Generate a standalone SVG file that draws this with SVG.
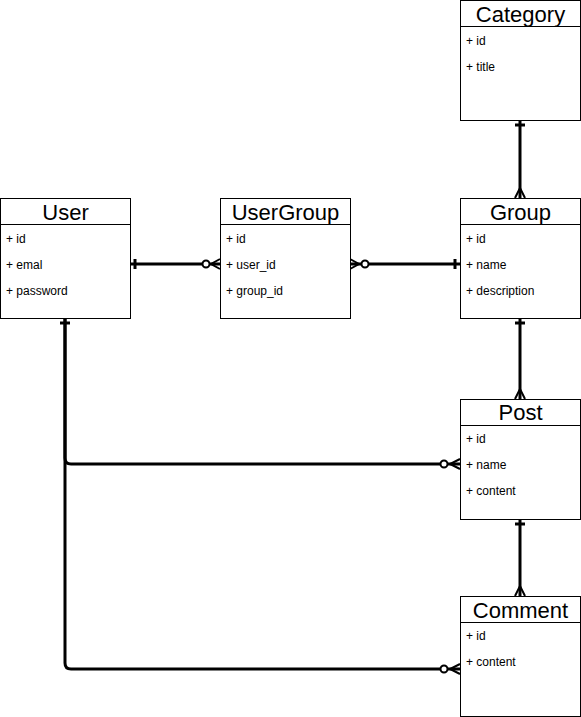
<svg xmlns="http://www.w3.org/2000/svg" width="581" height="717" viewBox="0 0 581 717">
<style>
.box{fill:#fff;stroke:#000;stroke-width:1}
.hdr{font-family:"Liberation Sans",Arial,sans-serif;font-size:22px;text-anchor:middle;fill:#000}
.attr{font-family:"Liberation Sans",Arial,sans-serif;font-size:12px;fill:#000}
.conn{fill:none;stroke:#000;stroke-width:3}
.mk{fill:none;stroke:#000;stroke-width:2}
.circ{fill:#fff;stroke:#000;stroke-width:2}
</style>
<rect width="581" height="717" fill="#fff"/>
<g id="connectors">
  <!-- User - UserGroup -->
  <path class="conn" d="M130,264 L220,264"/>
  <path class="conn" d="M135,259 L135,269"/>
  <path class="mk" d="M220,259 L211,264 L220,269"/>
  <circle class="circ" cx="206" cy="264" r="3.5"/>
  <!-- UserGroup - Group -->
  <path class="conn" d="M350,264 L460,264"/>
  <path class="mk" d="M350,259 L359,264 L350,269"/>
  <circle class="circ" cx="365" cy="264" r="3.5"/>
  <path class="conn" d="M455,259 L455,269"/>
  <!-- Category - Group -->
  <path class="conn" d="M520,120 L520,198"/>
  <path class="conn" d="M515,125 L525,125"/>
  <path class="mk" d="M515,198 L520,188 L525,198"/>
  <!-- Group - Post -->
  <path class="conn" d="M520,318 L520,399"/>
  <path class="conn" d="M515,323 L525,323"/>
  <path class="mk" d="M515,399 L520,389 L525,399"/>
  <!-- Post - Comment -->
  <path class="conn" d="M520,519 L520,596"/>
  <path class="conn" d="M515,524 L525,524"/>
  <path class="mk" d="M515,596 L520,586 L525,596"/>
  <!-- User - Post -->
  <path class="conn" d="M65,318 L65,458 Q65,464 71,464 L460,464"/>
  <path class="conn" d="M60,323 L70,323"/>
  <path class="mk" d="M460,459 L450,464 L460,469"/>
  <circle class="circ" cx="444" cy="464" r="3.5"/>
  <!-- User - Comment -->
  <path class="conn" d="M65,318 L65,663 Q65,669 71,669 L460,669"/>
  <path class="mk" d="M460,664 L450,669 L460,674"/>
  <circle class="circ" cx="444" cy="669" r="3.5"/>
</g>
<g id="Category">
  <rect class="box" x="460.5" y="0.5" width="120" height="120"/>
  <line class="box" x1="460.5" y1="26.5" x2="580.5" y2="26.5"/>
  <text class="hdr" x="520.5" y="22">Category</text>
  <text class="attr" x="466" y="45">+ id</text>
  <text class="attr" x="466" y="71">+ title</text>
</g>
<g id="User">
  <rect class="box" x="0.5" y="198.5" width="130" height="120"/>
  <line class="box" x1="0.5" y1="224.5" x2="130.5" y2="224.5"/>
  <text class="hdr" x="65.5" y="220">User</text>
  <text class="attr" x="6" y="243">+ id</text>
  <text class="attr" x="6" y="269">+ emal</text>
  <text class="attr" x="6" y="295">+ password</text>
</g>
<g id="UserGroup">
  <rect class="box" x="220.5" y="198.5" width="130" height="120"/>
  <line class="box" x1="220.5" y1="224.5" x2="350.5" y2="224.5"/>
  <text class="hdr" x="285.5" y="220">UserGroup</text>
  <text class="attr" x="226" y="243">+ id</text>
  <text class="attr" x="226" y="269">+ user_id</text>
  <text class="attr" x="226" y="295">+ group_id</text>
</g>
<g id="Group">
  <rect class="box" x="460.5" y="198.5" width="120" height="120"/>
  <line class="box" x1="460.5" y1="224.5" x2="580.5" y2="224.5"/>
  <text class="hdr" x="520.5" y="220">Group</text>
  <text class="attr" x="466" y="243">+ id</text>
  <text class="attr" x="466" y="269">+ name</text>
  <text class="attr" x="466" y="295">+ description</text>
</g>
<g id="Post">
  <rect class="box" x="460.5" y="399.5" width="120" height="120"/>
  <line class="box" x1="460.5" y1="425.5" x2="580.5" y2="425.5"/>
  <text class="hdr" x="520.5" y="420">Post</text>
  <text class="attr" x="466" y="443">+ id</text>
  <text class="attr" x="466" y="469">+ name</text>
  <text class="attr" x="466" y="495">+ content</text>
</g>
<g id="Comment">
  <rect class="box" x="460.5" y="596.5" width="120" height="120"/>
  <line class="box" x1="460.5" y1="622.5" x2="580.5" y2="622.5"/>
  <text class="hdr" x="520.5" y="618">Comment</text>
  <text class="attr" x="466" y="640">+ id</text>
  <text class="attr" x="466" y="666">+ content</text>
</g>
</svg>
